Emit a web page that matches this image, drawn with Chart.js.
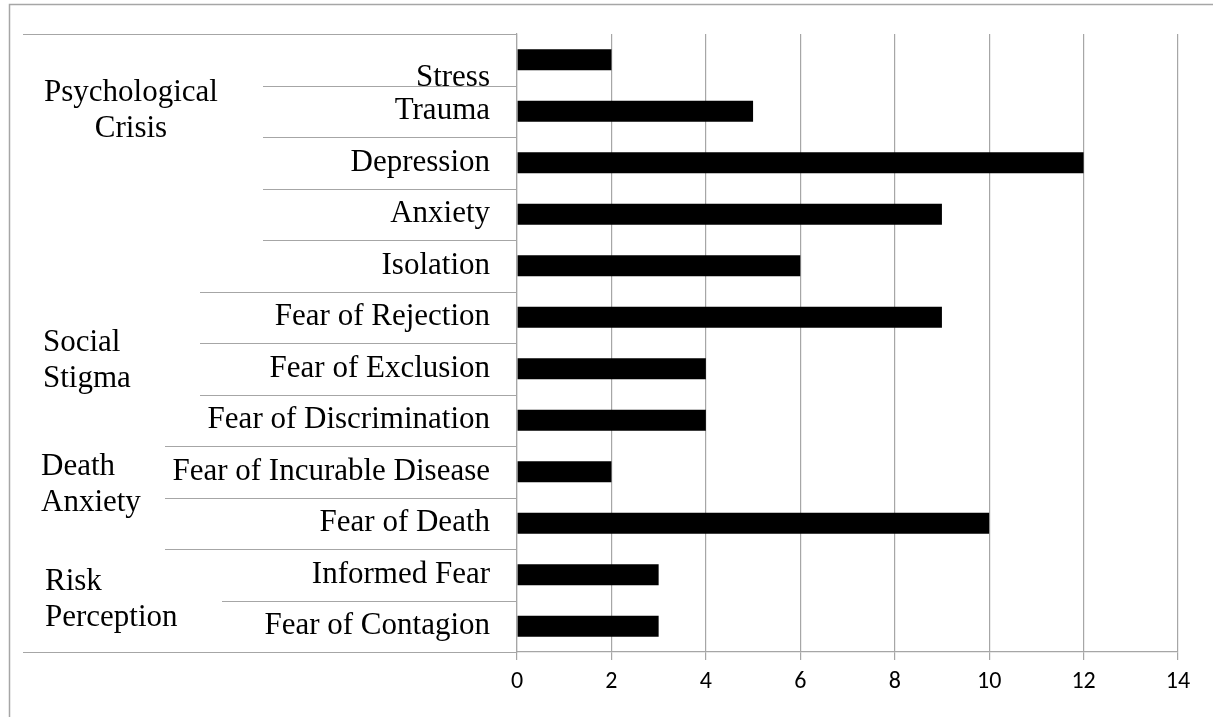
<!DOCTYPE html>
<html>
<head>
<meta charset="utf-8">
<script src="https://cdn.jsdelivr.net/npm/chart.js@4"></script>
<style>
  html, body { margin: 0; padding: 0; background: #fff; }
  #wrap { width: 1213px; height: 717px; }
</style>
</head>
<body>
<div id="wrap"><canvas id="fearChart" width="1213" height="717"></canvas></div>
<script>
// data
const categories = [
    'Stress', 'Trauma', 'Depression', 'Anxiety', 'Isolation',
    'Fear of Rejection', 'Fear of Exclusion', 'Fear of Discrimination',
    'Fear of Incurable Disease', 'Fear of Death',
    'Informed Fear', 'Fear of Contagion'
];
const counts = [2, 5, 12, 9, 6, 9, 4, 4, 2, 10, 3, 3];
const xTicks = [0, 2, 4, 6, 8, 10, 12, 14];
const groupNames = [
    ['Psychological', 'Crisis'],
    ['Social', 'Stigma'],
    ['Death', 'Anxiety'],
    ['Risk', 'Perception']
];

//style
const gridGray = '#a6a6a6';
const serif = '"Liberation Serif", "Times New Roman", serif';

// left side of the multi-level axis: separator lines + group names
const categoryFrame = {
    id: 'categoryFrame',
    afterDraw(chart) {
        const { ctx, chartArea: { left, top, bottom }, scales: { y } } = chart;
        // where each separator starts, top boundary first
        const lineStarts = [23, 263, 263, 263, 263, 200, 200, 200, 165, 165, 165, 222, 23];
        ctx.save();
        ctx.strokeStyle = gridGray;
        ctx.lineWidth = 1.5;
        // outer frame
        ctx.beginPath();
        ctx.moveTo(9.5, 717);
        ctx.lineTo(9.5, 4.5);
        ctx.lineTo(1213, 4.5);
        ctx.stroke();
        ctx.lineWidth = 1.2;
        for (let i = 0; i <= categories.length; i++) {
            let yy;
            if (i === 0) yy = top;
            else if (i === categories.length) yy = bottom;
            else yy = (y.getPixelForValue(i - 1) + y.getPixelForValue(i)) / 2;
            yy = Math.round(yy) + 0.5;
            ctx.beginPath();
            ctx.moveTo(lineStarts[i], yy);
            ctx.lineTo(left, yy);
            ctx.stroke();
        }

        ctx.fillStyle = '#000';
        ctx.font = `31px ${serif}`;
        ctx.textBaseline = 'middle';
        const spots = [
            { x: 131, y: 93, align: 'center' },
            { x: 43, y: 343, align: 'left' },
            { x: 41, y: 467, align: 'left' },
            { x: 45, y: 582, align: 'left' }
        ];
        groupNames.forEach((lines, g) => {
            ctx.textAlign = spots[g].align;
            lines.forEach((t, k) => ctx.fillText(t, spots[g].x, spots[g].y + k * 36));
        });
        ctx.restore();
    }
};

const fearChart = new Chart(document.getElementById('fearChart'), {
    type: 'bar',
    data: {
        labels: categories,
        datasets: [{
            data: counts,
            backgroundColor: '#000',
            borderWidth: 0,
            categoryPercentage: 1,
            barPercentage: 0.41
        }]
    },
    options: {
        indexAxis: 'y',
        responsive: false,
        animation: false,
        devicePixelRatio: 1,
        layout: { padding: { top: 34, right: 35, left: 0, bottom: 0 } },
        plugins: {
            legend: { display: false },
            tooltip: { enabled: false }
        },
        scales: {
            x: {
                min: 0,
                max: 14,
                afterBuildTicks: (scale) => { scale.ticks = xTicks.map(v => ({ value: v })); },
                afterFit: (scale) => { scale.height = 65; },
                grid: { color: gridGray, lineWidth: 1.2, tickLength: 8 },
                border: { color: gridGray, width: 1.2 },
                ticks: {
                    color: '#000',
                    padding: 8,
                    font: { family: 'Carlito, Lato, sans-serif', size: 24 }
                }
            },
            y: {
                afterFit: (scale) => {
                    scale.width = 517;
                    scale.paddingTop = 0;
                    scale.paddingBottom = 0;
                },
                grid: { display: false, drawTicks: false },
                border: { color: gridGray, width: 1.2 },
                ticks: {
                    color: '#000',
                    padding: 27,
                    autoSkip: false,
                    font: { family: serif, size: 31 },
                    // the top label sits low in the original, on its lower line
                    callback: function (value, index) {
                        const label = this.getLabelForValue(value);
                        return index === 0 ? ['', label] : label;
                    }
                }
            }
        }
    },
    plugins: [categoryFrame]
});
</script>
</body>
</html>
